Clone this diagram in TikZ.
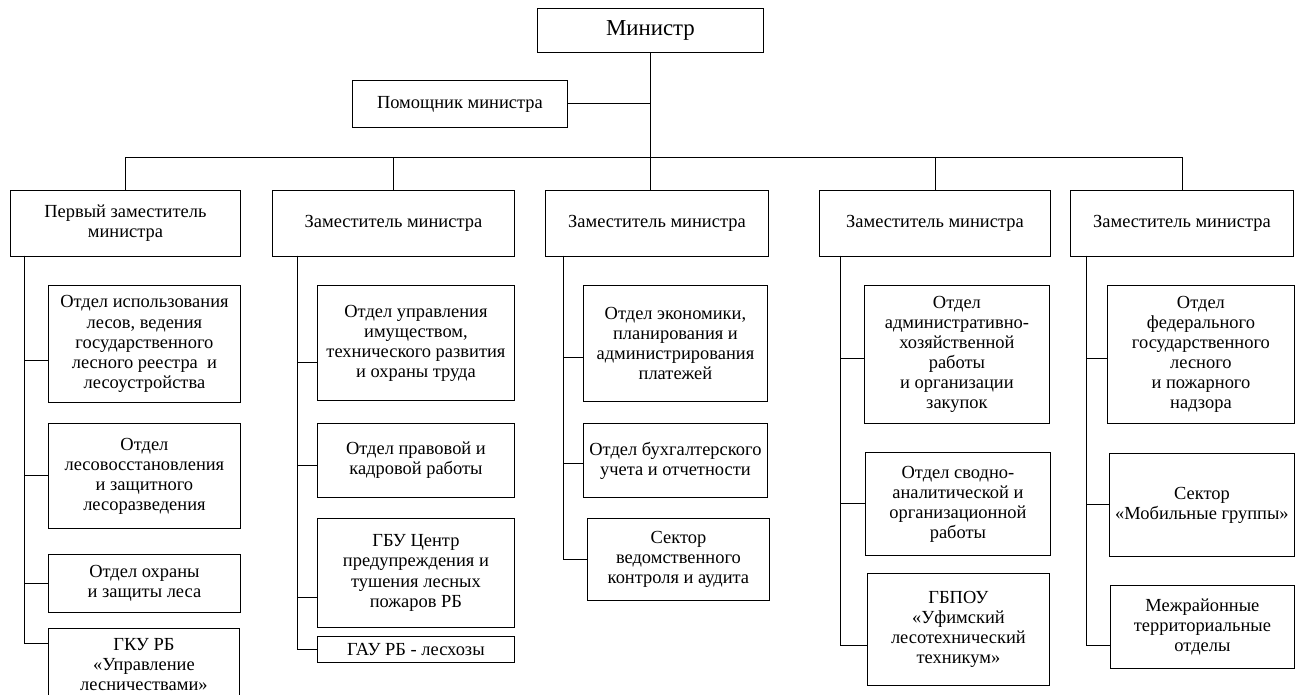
\documentclass[tikz,border=0pt]{standalone}
\usepackage{fontspec}
\setmainfont{Liberation Serif}
\begin{document}
\begin{tikzpicture}[x=0.02cm,y=-0.02cm,line width=0.5pt,
  every node/.style={font=\fontsize{10.5}{11.4}\selectfont},
  box/.style 2 args={draw,anchor=north west,align=center,inner sep=1pt,
    minimum width=#1*0.02cm,minimum height=#2*0.02cm}]
\useasboundingbox (0,0) rectangle (1295,695);
% top of the chart
\node[box={226}{44},font=\fontsize{13}{15}\selectfont] (min) at (537,8) {Министр};
\node[box={215}{47}] (asst) at (352,80) {Помощник министра};
% deputies
\node[box={230}{66}] (dep1) at (10,190) {Первый заместитель\\министра};
\node[box={242}{66}] (dep2) at (272,190) {Заместитель министра};
\node[box={223}{66}] (dep3) at (545,190) {Заместитель министра};
\node[box={231}{66}] (dep4) at (819,190) {Заместитель министра};
\node[box={223}{66}] (dep5) at (1070,190) {Заместитель министра};
% first deputy
\node[box={192}{117}] (a1) at (48,285) {Отдел использования\\лесов, ведения\\государственного\\лесного реестра \ и\\лесоустройства};
\node[box={192}{105}] (b1) at (48,423) {Отдел\\лесовосстановления\\и защитного\\лесоразведения};
\node[box={192}{58}] (c1) at (48,554) {Отдел охраны\\и защиты леса};
\node[box={191}{72}] (d1) at (48,628) {ГКУ РБ\\«Управление\\лесничествами»};
% deputy 2
\node[box={197}{115}] (a2) at (317,285) {Отдел управления\\имуществом,\\технического развития\\и охраны труда};
\node[box={197}{74}] (b2) at (317,423) {Отдел правовой и\\кадровой работы};
\node[box={197}{109}] (c2) at (317,518) {ГБУ Центр\\предупреждения и\\тушения лесных\\пожаров РБ};
\node[box={197}{26}] (d2) at (317,636) {ГАУ РБ - лесхозы};
% deputy 3
\node[box={184}{116}] (a3) at (583,285) {Отдел экономики,\\планирования и\\администрирования\\платежей};
\node[box={184}{74}] (b3) at (583,423) {Отдел бухгалтерского\\учета и отчетности};
\node[box={182}{82}] (c3) at (587,518) {Сектор\\ведомственного\\контроля и аудита};
% deputy 4
\node[box={185}{138}] (a4) at (864,285) {Отдел\\административно-\\хозяйственной\\работы\\и организации\\закупок};
\node[box={185}{103}] (b4) at (865,452) {Отдел сводно-\\аналитической и\\организационной\\работы};
\node[box={182}{112}] (c4) at (867,573) {ГБПОУ\\«Уфимский\\лесотехнический\\техникум»};
% deputy 5
\node[box={187}{138}] (a5) at (1107,285) {Отдел\\федерального\\государственного\\лесного\\и пожарного\\надзора};
\node[box={185}{103}] (b5) at (1109,453) {Сектор\\«Мобильные группы»};
\node[box={184}{83}] (c5) at (1110,585) {Межрайонные\\территориальные\\отделы};

% links at the top
\coordinate (bus) at (0,157);
\draw (min.south) -- (min.south |- dep3.north);
\draw (asst.east) -- (asst.east -| min.south);
\draw (dep1.north) -- (dep1.north |- bus) -- (dep5.north |- bus) -- (dep5.north);
\foreach \d in {dep2,dep4}
  \draw (\d.north) -- (\d.north |- bus);

% spines under the deputies
\coordinate (s1) at (24,256);
\coordinate (s2) at (297,256);
\coordinate (s3) at (563,256);
\coordinate (s4) at (840,256);
\coordinate (s5) at (1086,256);
\foreach \b/\dy in {a1/-0.33cm,b1/0cm,c1/0cm,d1/0.42cm}
  \draw (s1) |- ([yshift=\dy]\b.west);
\foreach \b/\dy in {a2/-0.39cm,b2/-0.1cm,c2/-0.49cm,d2/0cm}
  \draw (s2) |- ([yshift=\dy]\b.west);
\foreach \b/\dy in {a3/-0.28cm,b3/-0.06cm,c3/0cm}
  \draw (s3) |- ([yshift=\dy]\b.west);
\foreach \b/\dy in {a4/-0.08cm,b4/0cm,c4/-0.32cm}
  \draw (s4) |- ([yshift=\dy]\b.west);
\foreach \b/\dy in {a5/-0.08cm,b5/0cm,c5/-0.37cm}
  \draw (s5) |- ([yshift=\dy]\b.west);
\end{tikzpicture}
\end{document}
